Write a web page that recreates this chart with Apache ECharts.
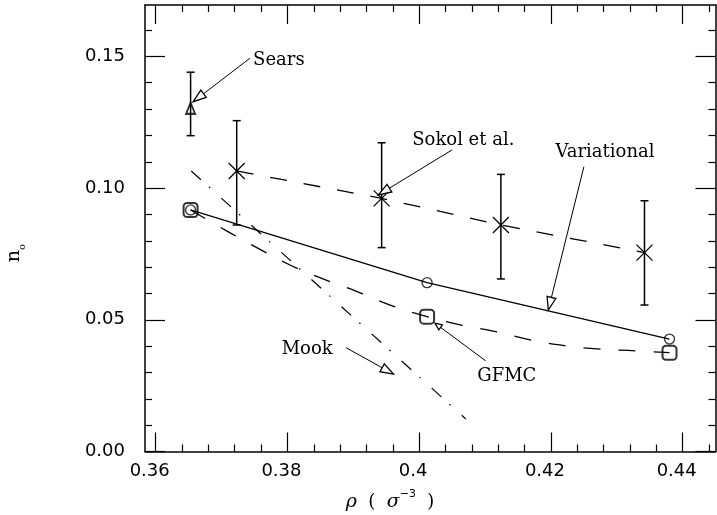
<!DOCTYPE html>
<html><head><meta charset="utf-8">
<script src="https://cdn.jsdelivr.net/npm/echarts@6/dist/echarts.min.js"></script>
<style>html,body{margin:0;padding:0;background:#fff}#c{width:717px;height:515px}</style>
</head><body><div id="c"></div>
<script>
// ---- axis ticks ----
const xTicks = [0.36, 0.38, 0.40, 0.42, 0.44];
const xTickLabels = ['0.36', '0.38', '0.4', '0.42', '0.44'];
const xMinorTicks = [0.364, 0.368, 0.372, 0.376, 0.384, 0.388, 0.392, 0.396, 0.404, 0.408, 0.412, 0.416, 0.424, 0.428, 0.432, 0.436, 0.444];
const yTicks = [0.00, 0.05, 0.10, 0.15];
const yTickLabels = ['0.00', '0.05', '0.10', '0.15'];
const yMinorTicks = [0.01, 0.02, 0.03, 0.04, 0.06, 0.07, 0.08, 0.09, 0.11, 0.12, 0.13, 0.14, 0.16];

// ---- Sears (triangle with error bar) ----
const searsX = [0.3653];
const searsY = [0.1303];
const searsLo = [0.1199];
const searsHi = [0.1440];

// ---- Sokol et al. (crosses with error bars, dashed line) ----
const sokolX = [0.3723, 0.3943, 0.4124, 0.4342];
const sokolY = [0.1065, 0.0961, 0.0860, 0.0755];
const sokolLo = [0.0860, 0.0774, 0.0655, 0.0556];
const sokolHi = [0.1256, 0.1172, 0.1052, 0.0952];

// ---- Variational (circles, solid line) ----
const varX = [0.3653, 0.4012, 0.4380];
const varY = [0.0917, 0.0641, 0.0427];

// ---- GFMC (squares, dashed curve) ----
const gfmcX = [0.3653, 0.4012, 0.4380];
const gfmcY = [0.0917, 0.0512, 0.0375];
const gfmcCurveX = [0.3653, 0.3711, 0.3757, 0.3804, 0.3854, 0.3904, 0.3956, 0.4012, 0.4064, 0.4118, 0.4170, 0.4223, 0.4275, 0.4329, 0.4380];
const gfmcCurveY = [0.0917, 0.0833, 0.0769, 0.0708, 0.0655, 0.0609, 0.0556, 0.0512, 0.0480, 0.0454, 0.0423, 0.0401, 0.0389, 0.0382, 0.0375];

// ---- Mook (dash-dot line) ----
const mookX = [0.3654, 0.4071];
const mookY = [0.1065, 0.0123];

// ---- annotations (data coordinates) ----
const annText = ['Sears', 'Sokol et al.', 'Variational', 'Mook', 'GFMC'];
const annTextX = [0.3787, 0.4067, 0.4282, 0.3830, 0.4133];
const annTextY = [0.1486, 0.1183, 0.1137, 0.0388, 0.0287];
const annFromX = [0.3743, 0.4050, 0.4250, 0.3889, 0.4101];
const annFromY = [0.1493, 0.1145, 0.1081, 0.0394, 0.0344];
const annToX = [0.3657, 0.3938, 0.4196, 0.3961, 0.4024];
const annToY = [0.1328, 0.0974, 0.0537, 0.0294, 0.0487];

const X_MIN = 0.35838, X_MAX = 0.44498, Y_MIN = 0, Y_MAX = 0.16951;

const zip = (a, b) => a.map((v, i) => [v, b[i]]);
const lookup = (vals, labels) => v => {
  for (let i = 0; i < vals.length; i++) if (Math.abs(vals[i] - v) < 1e-6) return labels[i];
  return '';
};

const axisLineStyle = { color: '#000', width: 1.5 };
const tickStyle = { color: '#000', width: 1.2 };
const labelFont = { color: '#000', fontFamily: 'DejaVu Sans', fontSize: 18 };

function xAx(position, major, showLine, showLabel) {
  return {
    type: 'value', min: X_MIN, max: X_MAX, position: position,
    axisLine: { show: showLine, onZero: false, lineStyle: axisLineStyle },
    axisTick: { show: true, inside: true, length: major ? 19 : 7, customValues: major ? xTicks : xMinorTicks, lineStyle: tickStyle },
    axisLabel: showLabel ? Object.assign({ show: true, customValues: xTicks, formatter: lookup(xTicks, xTickLabels), margin: 11, padding: [0, 12, 0, 0] }, labelFont) : { show: false },
    splitLine: { show: false }
  };
}
function yAx(position, major, showLine, showLabel) {
  return {
    type: 'value', min: Y_MIN, max: Y_MAX, position: position,
    axisLine: { show: showLine, onZero: false, lineStyle: axisLineStyle },
    axisTick: { show: true, inside: true, length: major ? 20 : 7, customValues: major ? yTicks : yMinorTicks, lineStyle: tickStyle },
    axisLabel: showLabel ? Object.assign({ show: true, customValues: yTicks, formatter: lookup(yTicks, yTickLabels), margin: 20 }, labelFont) : { show: false },
    splitLine: { show: false }
  };
}

function errorBarItem(withCross) {
  return function (params, api) {
    const x = api.value(0), y = api.value(1), lo = api.value(2), hi = api.value(3);
    const p = api.coord([x, y]), pl = api.coord([x, lo]), ph = api.coord([x, hi]);
    const st = { stroke: '#000', lineWidth: 1.5 };
    const cw = 4;
    const ch = [
      { type: 'line', shape: { x1: pl[0], y1: pl[1], x2: ph[0], y2: ph[1] }, style: st },
      { type: 'line', shape: { x1: pl[0] - cw, y1: pl[1], x2: pl[0] + cw, y2: pl[1] }, style: st },
      { type: 'line', shape: { x1: ph[0] - cw, y1: ph[1], x2: ph[0] + cw, y2: ph[1] }, style: st }
    ];
    if (withCross) {
      const s = 8;
      ch.push({ type: 'line', shape: { x1: p[0] - s, y1: p[1] - s, x2: p[0] + s, y2: p[1] + s }, style: { stroke: '#000', lineWidth: 1.2 } });
      ch.push({ type: 'line', shape: { x1: p[0] - s, y1: p[1] + s, x2: p[0] + s, y2: p[1] - s }, style: { stroke: '#000', lineWidth: 1.2 } });
    }
    return { type: 'group', children: ch };
  };
}

function arrowItem(params, api) {
  const i = params.dataIndex;
  const a = api.coord([api.value(0), api.value(1)]);
  const b = api.coord([api.value(2), api.value(3)]);
  const dx = b[0] - a[0], dy = b[1] - a[1], L = Math.hypot(dx, dy), ux = dx / L, uy = dy / L;
  const small = annText[i] === 'GFMC';
  const hl = small ? 7 : 13, hw = small ? 3 : 4.5;
  const base = [b[0] - ux * hl, b[1] - uy * hl];
  const p1 = [base[0] - uy * hw, base[1] + ux * hw], p2 = [base[0] + uy * hw, base[1] - ux * hw];
  const t = api.coord([annTextX[i], annTextY[i]]);
  return {
    type: 'group', children: [
      { type: 'line', shape: { x1: a[0], y1: a[1], x2: base[0], y2: base[1] }, style: { stroke: '#000', lineWidth: 1 } },
      { type: 'polygon', shape: { points: [b, p1, p2] }, style: { fill: '#fff', stroke: '#000', lineWidth: 1.3 } },
      { type: 'text', x: t[0], y: t[1], style: { text: annText[i], font: '18px "DejaVu Serif"', fill: '#000', align: 'center', verticalAlign: 'middle' } }
    ]
  };
}

const chart = echarts.init(document.getElementById('c'), null, { renderer: 'canvas' });
chart.setOption({
  animation: false,
  backgroundColor: '#fff',
  grid: { left: 145, top: 5, right: 1.5, bottom: 63.5, containLabel: false },
  xAxis: [xAx('bottom', true, true, true), xAx('bottom', false, false, false), xAx('top', true, true, false), xAx('top', false, false, false)],
  yAxis: [yAx('left', true, true, true), yAx('left', false, false, false), yAx('right', true, true, false), yAx('right', false, false, false)],
  graphic: [
    {
      type: 'text', x: 14, y: 253, rotation: Math.PI / 2,
      style: {
        text: '{n|n}{o|o}', align: 'center', verticalAlign: 'middle', fill: '#000',
        rich: {
          n: { fontFamily: 'DejaVu Serif', fontSize: 19, lineHeight: 26 },
          o: { fontFamily: 'DejaVu Serif', fontSize: 10, lineHeight: 10, verticalAlign: 'bottom' }
        }
      }
    },
    {
      type: 'text', x: 390, y: 502,
      style: {
        text: '{g|ρ}{t|  (  }{g|σ}{s|−3}{t|  )}', align: 'center', verticalAlign: 'middle', fill: '#000',
        rich: {
          g: { fontFamily: 'DejaVu Serif', fontStyle: 'italic', fontSize: 19, lineHeight: 26 },
          t: { fontFamily: 'DejaVu Serif', fontSize: 18, lineHeight: 26 },
          s: { fontFamily: 'DejaVu Sans', fontSize: 11, lineHeight: 12, verticalAlign: 'top' }
        }
      }
    }
  ],
  series: [
    { type: 'line', name: 'Mook', data: zip(mookX, mookY), showSymbol: false, lineStyle: { color: '#000', width: 1.2, type: [13, 11, 1.5, 15] }, z: 2 },
    { type: 'line', name: 'Sokol', data: zip(sokolX, sokolY), showSymbol: false, lineStyle: { color: '#000', width: 1.3, type: [17, 17] }, z: 2 },
    { type: 'line', name: 'GFMC curve', data: zip(gfmcCurveX, gfmcCurveY), showSymbol: false, smooth: true, lineStyle: { color: '#000', width: 1.3, type: [17, 18] }, z: 2 },
    { type: 'line', name: 'Variational', data: zip(varX, varY), showSymbol: false, lineStyle: { color: '#000', width: 1.3 }, z: 2 },
    { type: 'custom', name: 'Sokol err', renderItem: errorBarItem(true), data: sokolX.map((v, i) => [v, sokolY[i], sokolLo[i], sokolHi[i]]), encode: { x: 0, y: 1 }, z: 3 },
    { type: 'custom', name: 'Sears err', renderItem: errorBarItem(false), data: searsX.map((v, i) => [v, searsY[i], searsLo[i], searsHi[i]]), encode: { x: 0, y: 1 }, z: 3 },
    { type: 'scatter', name: 'Sears', data: zip(searsX, searsY), symbol: 'triangle', symbolSize: [9, 11], itemStyle: { color: 'rgba(0,0,0,0)', borderColor: '#000', borderWidth: 2 }, z: 4 },
    { type: 'scatter', name: 'GFMC', data: zip(gfmcX, gfmcY), symbol: 'roundRect', symbolSize: 14, itemStyle: { color: 'rgba(0,0,0,0)', borderColor: '#000', borderWidth: 2 }, z: 4 },
    { type: 'scatter', name: 'Variational pts', data: zip(varX, varY), symbol: 'circle', symbolSize: 10, itemStyle: { color: 'rgba(0,0,0,0)', borderColor: '#000', borderWidth: 1.3 }, z: 5 },
    { type: 'custom', name: 'annotations', renderItem: arrowItem, data: annText.map((t, i) => [annFromX[i], annFromY[i], annToX[i], annToY[i]]), encode: { x: [0, 2], y: [1, 3] }, z: 6 }
  ]
});
</script></body></html>
